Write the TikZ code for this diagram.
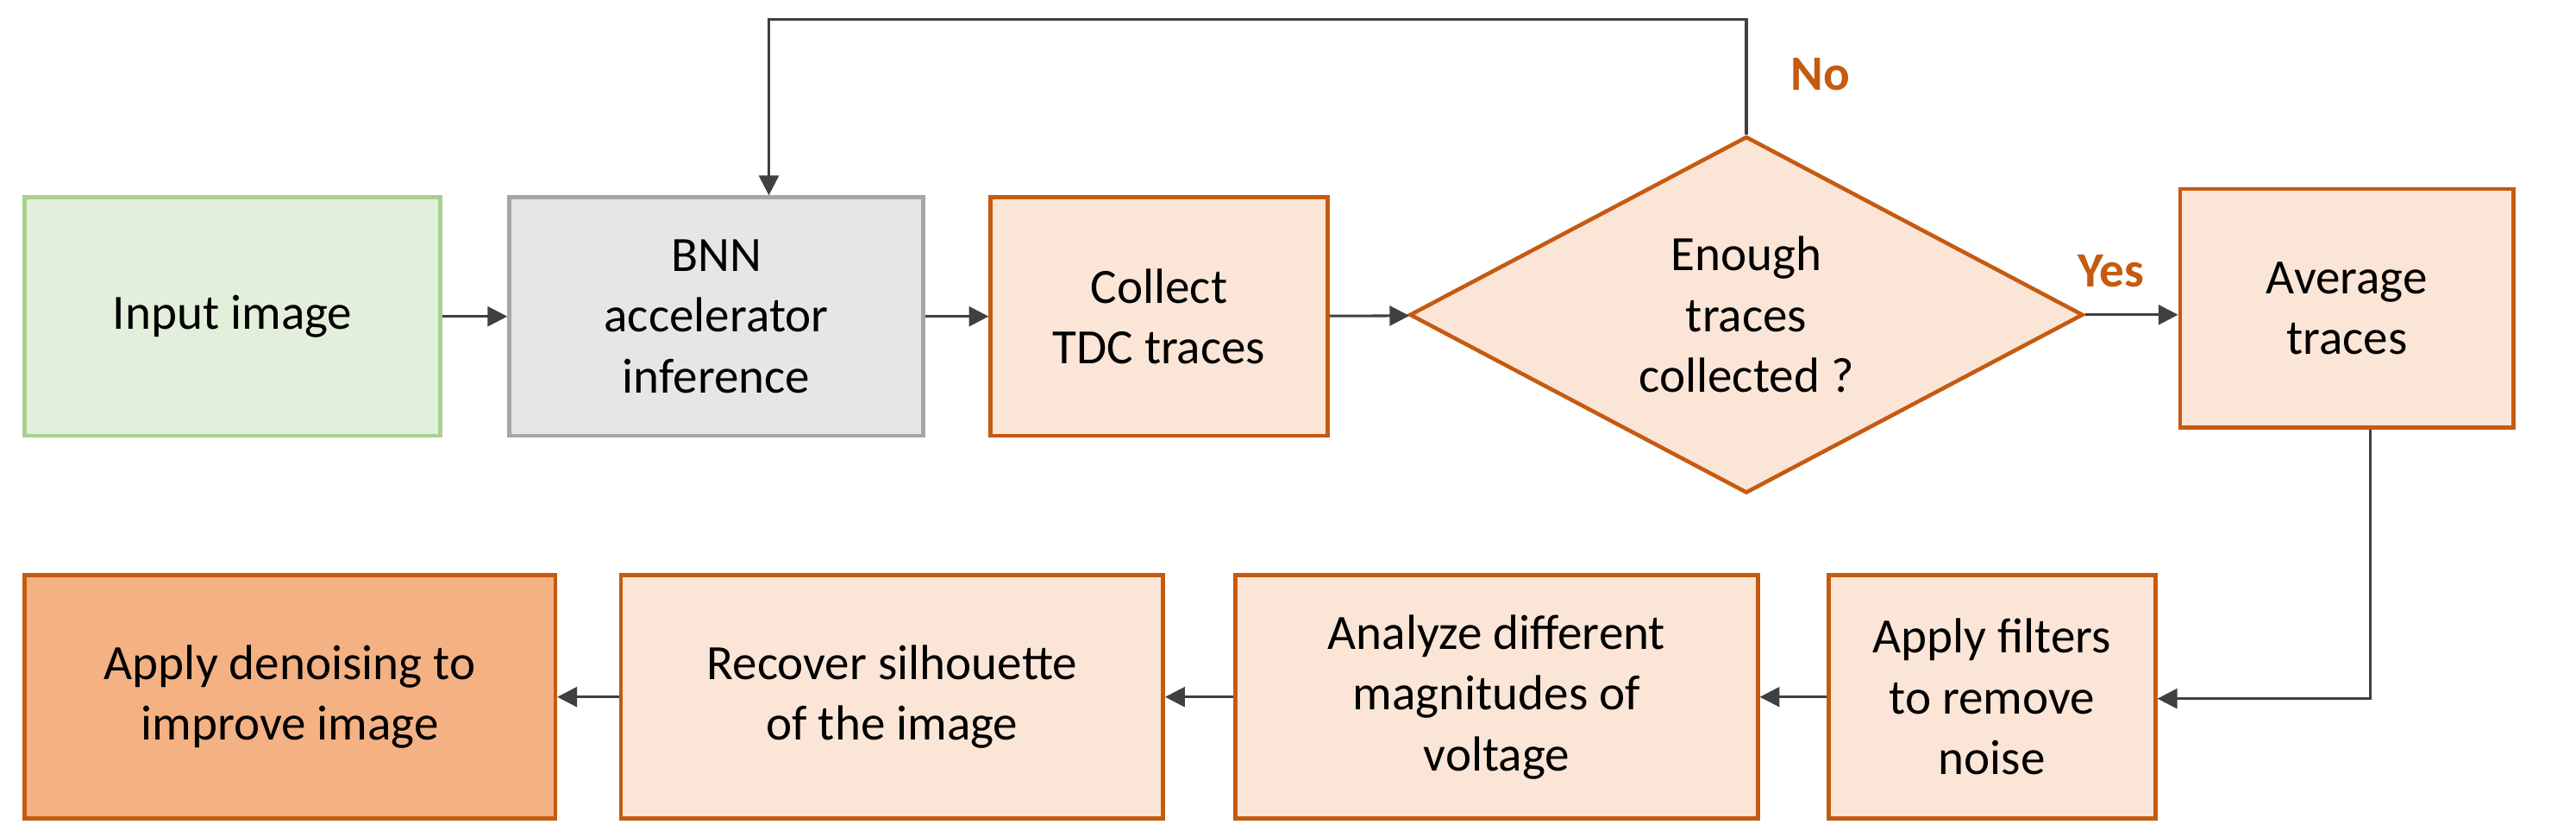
\documentclass[tikz,border=0pt]{standalone}
\usepackage{fontspec}
\setmainfont{Carlito}
\usetikzlibrary{shapes.geometric,arrows.meta}
\definecolor{orb}{HTML}{C55A11}
\definecolor{orf}{HTML}{FBE5D6}
\definecolor{ordk}{HTML}{F4B183}
\definecolor{grf}{HTML}{E2EFDA}
\definecolor{grb}{HTML}{A9D18E}
\definecolor{gyf}{HTML}{E7E6E6}
\definecolor{gyb}{HTML}{A6A6A6}
\definecolor{lab}{HTML}{C55A11}
\begin{document}
\begin{tikzpicture}[x=0.5pt,y=-0.5pt,
 box/.style={draw=orb,fill=orf,line width=1.2pt,align=center,inner sep=0pt,font=\fontsize{15}{18.5}\selectfont},
 arr/.style={draw=black!75,line width=0.8pt,-{Triangle[length=6pt,width=6pt]}},
 lbl/.style={text=lab,font=\fontsize{15}{18}\selectfont\bfseries}]
\useasboundingbox (0,0) rectangle (1568,509);
\node[box,draw=grb,fill=grf,minimum width=126.5pt,minimum height=72.5pt] (in) at (141.5,192.5) {Input image};
\node[box,draw=gyb,fill=gyf,minimum width=126pt,minimum height=72.5pt] (bnn) at (436,192.5) {BNN\\accelerator\\inference};
\node[box,minimum width=102.5pt,minimum height=72.5pt] (col) at (705.5,192.5) {Collect\\TDC traces};
\node[box,diamond,aspect=1.9,minimum width=205pt,minimum height=108.5pt] (dec) at (1063,191.5) {Enough\\traces\\collected ?};
\node[box,minimum width=101.5pt,minimum height=72.5pt] (avg) at (1428.5,187.5) {Average\\traces};
\node[box,minimum width=99.5pt,minimum height=74pt] (flt) at (1212.5,424) {Apply filters\\to remove\\noise};
\node[box,minimum width=159pt,minimum height=74pt] (ana) at (911,424) {Analyze different\\magnitudes of\\voltage};
\node[box,minimum width=165pt,minimum height=74pt] (rec) at (543,424) {Recover silhouette\\of the image};
\node[box,fill=ordk,minimum width=161.5pt,minimum height=74pt] (den) at (176.5,424) {Apply denoising to\\improve image};
\coordinate (t1) at (1063,12);
\coordinate (t2) at (468,12);
\coordinate (c1) at (1443,425);
\draw[arr] (in) -- (bnn);
\draw[arr] (bnn) -- (col);
\draw[arr] (col) -- (dec);
\draw[arr] (dec.east) -- (avg.west|-dec.east);
\draw[arr] (dec.north) -- (t1) -- (t2) -- (bnn.north-|t2);
\draw[arr] (avg.south-|c1) -- (c1) -- (flt.east|-c1);
\draw[arr] (flt) -- (ana);
\draw[arr] (ana) -- (rec);
\draw[arr] (rec) -- (den);
\node[lbl] (no) at (1108,45) {No};
\node[lbl] (yes) at (1285,165) {Yes};
\end{tikzpicture}
\end{document}
